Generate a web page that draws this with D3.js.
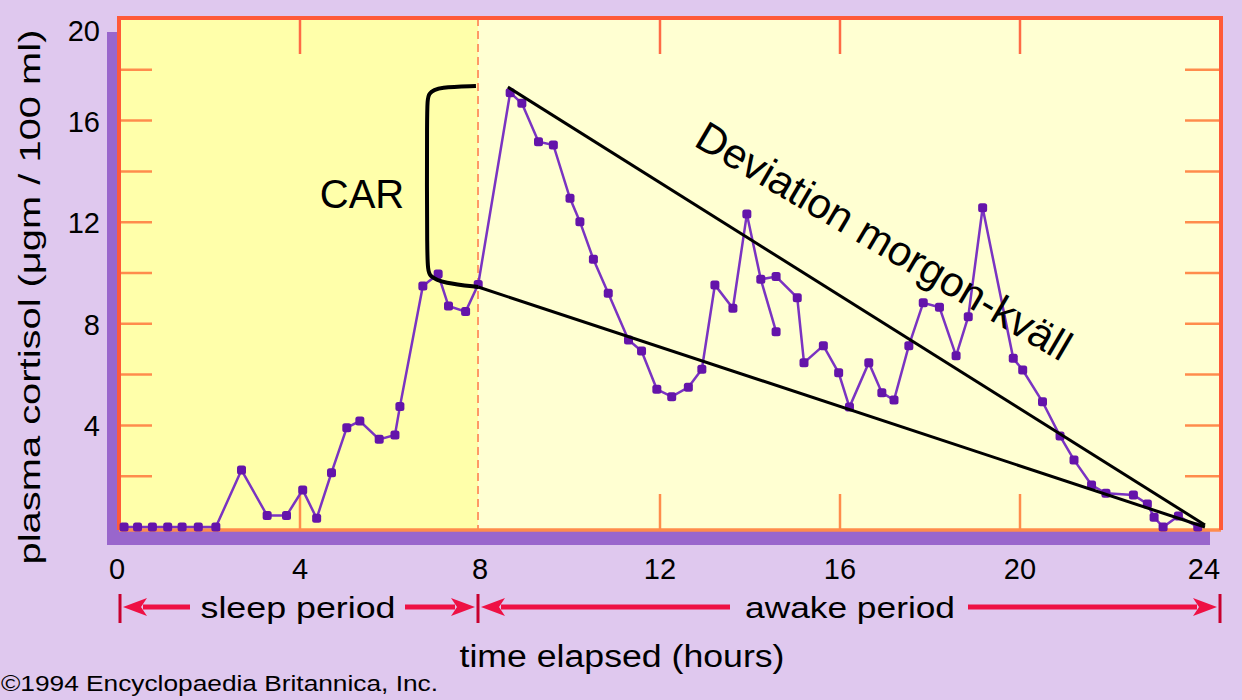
<!DOCTYPE html>
<html>
<head>
<meta charset="utf-8">
<script src="https://cdn.jsdelivr.net/npm/d3@7/dist/d3.min.js"></script>
<style>
  html, body { margin: 0; padding: 0; background: #DFC8EE; }
  svg { display: block; }
</style>
</head>
<body>
<svg id="chart" width="1242" height="700"></svg>
<script>
// ---------- data ----------
const hours = [0.09, 0.39, 0.72, 1.06, 1.38, 1.74, 2.13, 2.70, 3.27, 3.70, 4.06, 4.37, 4.70,
  5.04, 5.33, 5.76, 6.11, 6.22, 6.73, 7.07, 7.30, 7.68, 7.96, 8.67, 8.93, 9.30, 9.63, 10.00,
  10.22, 10.52, 10.85, 11.30, 11.59, 11.93, 12.26, 12.63, 12.93, 13.22, 13.62, 13.93, 14.24,
  14.58, 15.05, 15.20, 15.63, 15.97, 16.21, 16.64, 16.93, 17.20, 17.53, 17.85, 18.21, 18.58,
  18.85, 19.17, 19.85, 20.06, 20.50, 20.89, 21.20, 21.59, 21.91, 22.52, 22.83, 22.98, 23.18,
  23.52, 23.95];
const cortisol = [0, 0, 0, 0, 0, 0, 0, 2.24, 0.45, 0.45, 1.46, 0.34, 2.14,
  3.91, 4.17, 3.45, 3.62, 4.74, 9.49, 9.96, 8.70, 8.48, 9.55, 17.1, 16.68, 15.17, 15.04, 12.94,
  12.02, 10.54, 9.20, 7.36, 6.93, 5.42, 5.13, 5.50, 6.21, 9.53, 8.61, 12.32, 9.75,
  9.86, 9.03, 6.47, 7.14, 6.07, 4.72, 6.47, 5.29, 5.00, 7.14, 8.83, 8.65, 6.74,
  8.28, 12.57, 6.64, 6.18, 4.93, 3.58, 2.64, 1.65, 1.33, 1.26, 0.91, 0.38, 0,
  0.43, 0];
// short side branch drawn in the original
const spurHours = [14.24, 14.58];
const spurValues = [9.75, 7.69];

const xTickValues = [0, 4, 8, 12, 16, 20, 24];
const xInnerTicks = [4, 12, 16, 20];
const yTickLabels = [4, 8, 12, 16, 20];
const yMinorTicks = [2, 4, 6, 8, 10, 12, 14, 16, 18];
const sleepEnd = 8;

const periodLabels = ["sleep period", "awake period"];
const xTitle = "time elapsed (hours)";
const yTitle = "plasma cortisol (\u03BCgm / 100 ml)";
const copyright = "\u00A91994 Encyclopaedia Britannica, Inc.";

// annotations (data units: hours, value)
const carBracket = [[7.91, 17.36], [7.1, 17.32], [6.84, 17.1], [6.82, 16.6], [6.82, 10.3],
  [6.86, 9.85], [7.2, 9.6], [7.96, 9.45]];
const upperTrend = [[8.62, 17.32], [24.11, 0.08]];
const lowerTrend = [[7.96, 9.45], [24.11, 0.0]];
const carLabel = "CAR";
const deviationLabel = "Deviation morgon-kv\u00E4ll";

// ---------- layout ----------
const svg = d3.select("#chart");
const frame = { left: 119, right: 1221, top: 18, bottom: 530 };
const x = d3.scaleLinear().domain([0, 24]).range([120, 1200]);
const y = d3.scaleLinear().domain([0, 20]).range([527, 19]);
const font = "'Liberation Sans', Arial, sans-serif";

// purple shadow
svg.append("rect").attr("x", 107).attr("y", 32).attr("width", 14)
  .attr("height", 545 - 32).attr("fill", "#9966CC");
svg.append("rect").attr("x", 107).attr("y", 530).attr("width", 1210 - 107)
  .attr("height", 15).attr("fill", "#9966CC");

// backgrounds
svg.append("rect").attr("x", frame.left).attr("y", frame.top)
  .attr("width", frame.right - frame.left).attr("height", frame.bottom - frame.top)
  .attr("fill", "#FFFFD2");
svg.append("rect").attr("x", frame.left).attr("y", frame.top)
  .attr("width", x(sleepEnd) - 2 - frame.left).attr("height", frame.bottom - frame.top)
  .attr("fill", "#FFFFAA");

// minor ticks
const tickColor = "#FF8C4C";
const g = svg.append("g");
g.selectAll(".yl").data(yMinorTicks).join("line")
  .attr("x1", frame.left).attr("x2", frame.left + 33)
  .attr("y1", d => y(d)).attr("y2", d => y(d))
  .attr("stroke", tickColor).attr("stroke-width", 2.5);
g.selectAll(".yr").data(yMinorTicks).join("line")
  .attr("x1", frame.right - 36).attr("x2", frame.right)
  .attr("y1", d => y(d)).attr("y2", d => y(d))
  .attr("stroke", tickColor).attr("stroke-width", 2.5);
g.selectAll(".xt").data(xInnerTicks).join("line")
  .attr("x1", d => x(d)).attr("x2", d => x(d))
  .attr("y1", frame.top).attr("y2", frame.top + 36)
  .attr("stroke", "#FF6A45").attr("stroke-width", 2.5);
g.selectAll(".xb").data(xInnerTicks).join("line")
  .attr("x1", d => x(d)).attr("x2", d => x(d))
  .attr("y1", frame.bottom).attr("y2", frame.bottom - 36)
  .attr("stroke", tickColor).attr("stroke-width", 2.5);

// dashed separator at 8h
svg.append("line").attr("x1", x(sleepEnd) - 2).attr("x2", x(sleepEnd) - 2)
  .attr("y1", frame.top).attr("y2", frame.bottom)
  .attr("stroke", "#FF9966").attr("stroke-width", 2).attr("stroke-dasharray", "8,5");

// frame borders
svg.append("line").attr("x1", frame.left).attr("x2", frame.right)
  .attr("y1", frame.bottom).attr("y2", frame.bottom)
  .attr("stroke", "#FF8C4C").attr("stroke-width", 3.5);
svg.append("path")
  .attr("d", `M${frame.left},${frame.bottom}V${frame.top}H${frame.right}V${frame.bottom}`)
  .attr("fill", "none").attr("stroke", "#FF5A38").attr("stroke-width", 4);

// data line
const line = d3.line().x(d => x(d[0])).y(d => y(d[1]));
const pts = hours.map((h, i) => [h, cortisol[i]]);
const spur = spurHours.map((h, i) => [h, spurValues[i]]);
const purpleLine = "#7A33C2";
const purpleDot = "#6414AA";
svg.append("path").datum(pts).attr("d", line).attr("fill", "none")
  .attr("stroke", purpleLine).attr("stroke-width", 2.5);
svg.append("path").datum(spur).attr("d", line).attr("fill", "none")
  .attr("stroke", purpleLine).attr("stroke-width", 2.5);
svg.selectAll(".dot").data(pts.concat([spur[1]])).join("rect")
  .attr("x", d => x(d[0]) - 4.5).attr("y", d => y(d[1]) - 4.5)
  .attr("width", 9).attr("height", 9).attr("rx", 2.5)
  .attr("fill", purpleDot);

// annotations
svg.append("path").datum(carBracket)
  .attr("d", d3.line().x(d => x(d[0])).y(d => y(d[1])).curve(d3.curveBasis))
  .attr("fill", "none").attr("stroke", "#000").attr("stroke-width", 4);
svg.append("path").datum(upperTrend).attr("d", line)
  .attr("fill", "none").attr("stroke", "#000").attr("stroke-width", 3);
svg.append("path").datum(lowerTrend).attr("d", line)
  .attr("fill", "none").attr("stroke", "#000").attr("stroke-width", 3);
svg.append("text").attr("x", 362).attr("y", 194)
  .attr("text-anchor", "middle").attr("dominant-baseline", "central")
  .attr("font-family", font).attr("font-size", 40).attr("fill", "#000").text(carLabel);
svg.append("text").attr("transform", "translate(884,241) rotate(30.5)")
  .attr("text-anchor", "middle").attr("dominant-baseline", "central")
  .attr("font-family", font).attr("font-size", 42).attr("fill", "#000")
  .text(deviationLabel);

// axis labels
svg.selectAll(".ylab").data(yTickLabels).join("text")
  .attr("x", 100).attr("y", d => Math.max(y(d) + 1, 31))
  .attr("text-anchor", "end").attr("dominant-baseline", "central")
  .attr("font-family", font).attr("font-size", 29).attr("fill", "#000")
  .text(d => d);
svg.selectAll(".xlab").data(xTickValues).join("text")
  .attr("x", d => x(d) + (d === 24 ? 4 : 0) - (d === 0 ? 3 : 0)).attr("y", 569)
  .attr("text-anchor", "middle").attr("dominant-baseline", "central")
  .attr("font-family", font).attr("font-size", 29).attr("fill", "#000")
  .text(d => d);

svg.append("text").attr("transform", "translate(29,297) rotate(-90)")
  .attr("text-anchor", "middle").attr("dominant-baseline", "central")
  .attr("font-family", font).attr("font-size", 30).attr("fill", "#000")
  .attr("textLength", 535).attr("lengthAdjust", "spacingAndGlyphs")
  .text(yTitle);

svg.append("text").attr("x", 622).attr("y", 656)
  .attr("text-anchor", "middle").attr("dominant-baseline", "central")
  .attr("font-family", font).attr("font-size", 31).attr("fill", "#000")
  .attr("textLength", 325).attr("lengthAdjust", "spacingAndGlyphs")
  .text(xTitle);

svg.append("text").attr("x", 1).attr("y", 683)
  .attr("dominant-baseline", "central")
  .attr("font-family", font).attr("font-size", 22).attr("fill", "#000")
  .attr("textLength", 437).attr("lengthAdjust", "spacingAndGlyphs")
  .text(copyright);

// period arrows
const ay = 607;
const red = "#EE1144";
const barRed = "#C8002E";
function arrow(x1, x2) {
  // line from x1 to tip x2 with arrowhead at x2
  const dir = Math.sign(x2 - x1);
  const base = x2 - dir * 20;
  svg.append("line").attr("x1", x1).attr("x2", base).attr("y1", ay).attr("y2", ay)
    .attr("stroke", red).attr("stroke-width", 5);
  svg.append("path")
    .attr("d", `M${x2},${ay} L${x2 - dir * 24},${ay - 9} L${x2 - dir * 18},${ay} L${x2 - dir * 24},${ay + 9} Z`)
    .attr("fill", red);
}
const barXs = [x(0), x(sleepEnd) - 2, frame.right - 1];
svg.selectAll(".bar").data(barXs).join("line")
  .attr("x1", d => d).attr("x2", d => d).attr("y1", 594).attr("y2", 623)
  .attr("stroke", barRed).attr("stroke-width", 3);
arrow(190, barXs[0] + 3);
arrow(405, barXs[1] - 3);
arrow(730, barXs[1] + 3);
arrow(968, barXs[2] - 3);
svg.append("text").attr("x", 298).attr("y", ay)
  .attr("text-anchor", "middle").attr("dominant-baseline", "central")
  .attr("font-family", font).attr("font-size", 30).attr("fill", "#000")
  .attr("textLength", 195).attr("lengthAdjust", "spacingAndGlyphs")
  .text(periodLabels[0]);
svg.append("text").attr("x", 850).attr("y", ay)
  .attr("text-anchor", "middle").attr("dominant-baseline", "central")
  .attr("font-family", font).attr("font-size", 30).attr("fill", "#000")
  .attr("textLength", 210).attr("lengthAdjust", "spacingAndGlyphs")
  .text(periodLabels[1]);
</script>
</body>
</html>
